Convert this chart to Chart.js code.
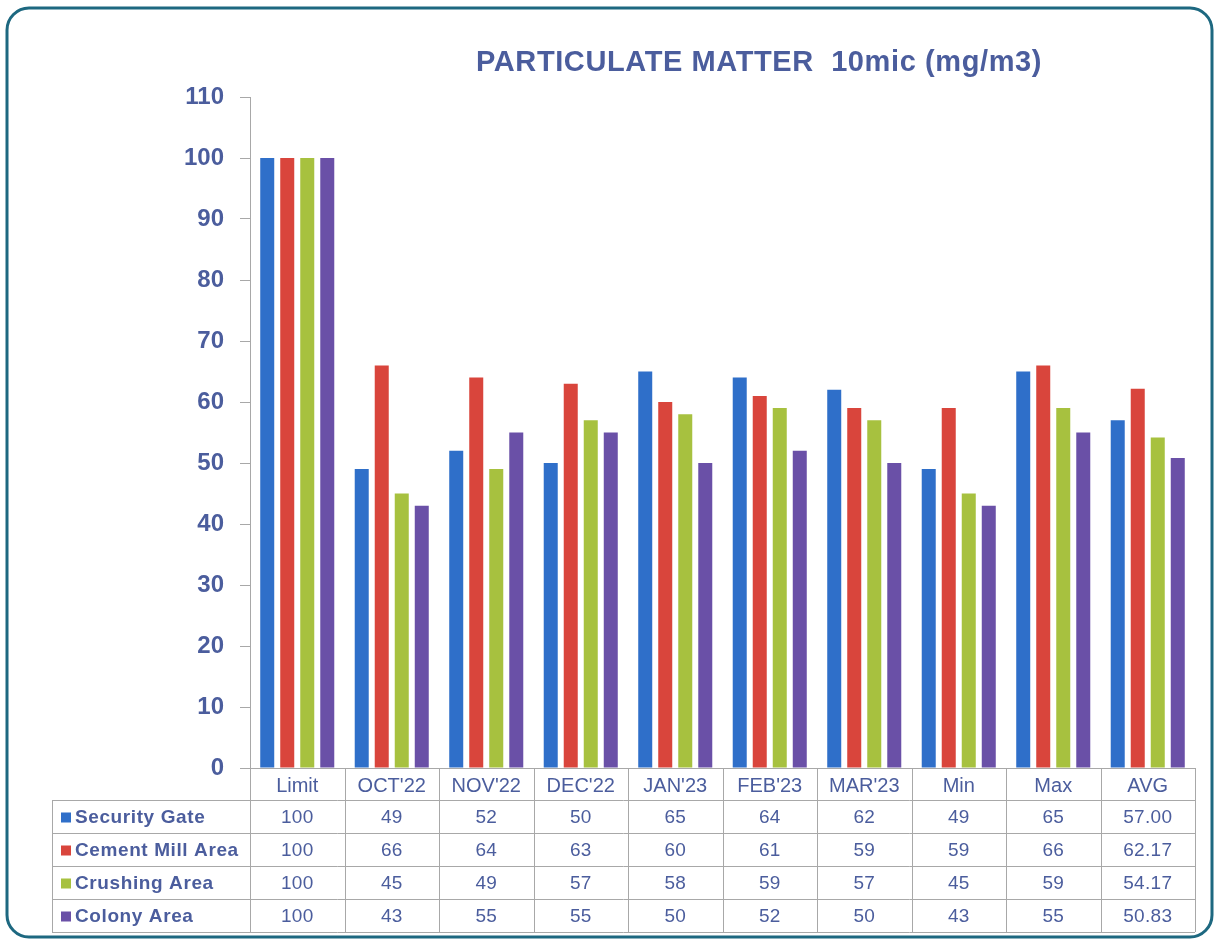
<!DOCTYPE html>
<html>
<head>
<meta charset="utf-8">
<script src="https://cdn.jsdelivr.net/npm/chart.js@4.4.0/dist/chart.umd.min.js"></script>
<style>
  html, body { margin: 0; padding: 0; background: #fff; }
  #wrap { width: 1218px; height: 942px; }
</style>
</head>
<body>
<div id="wrap"><canvas id="pm-chart" width="1218" height="942"></canvas></div>
<script>
// categories + series
const categories = ["Limit", "OCT'22", "NOV'22", "DEC'22", "JAN'23", "FEB'23", "MAR'23", "Min", "Max", "AVG"];
const securityGate = [100, 49, 52, 50, 65, 64, 62, 49, 65, 57.00];
const cementMillArea = [100, 66, 64, 63, 60, 61, 59, 59, 66, 62.17];
const crushingArea = [100, 45, 49, 57, 58, 59, 57, 45, 59, 54.17];
const colonyArea = [100, 43, 55, 55, 50, 52, 50, 43, 55, 50.83];
const yTicks = [0, 10, 20, 30, 40, 50, 60, 70, 80, 90, 100, 110];

const textColor = "#4b5d9d";
const lineColor = "#a8a8a8";
const fontFamily = "'Liberation Sans', Arial, sans-serif";

const series = [
  { label: "Security Gate", data: securityGate, color: "#2f6fc9" },
  { label: "Cement Mill Area", data: cementMillArea, color: "#d9453c" },
  { label: "Crushing Area", data: crushingArea, color: "#a7c13f" },
  { label: "Colony Area", data: colonyArea, color: "#6a50a7" },
];

// frame, title and the data table under the x axis
const tablePlugin = {
  id: "tablePlugin",
  beforeDraw(chart) {
    const ctx = chart.ctx;
    ctx.save();
    ctx.fillStyle = "#fff";
    ctx.fillRect(0, 0, chart.width, chart.height);
    ctx.strokeStyle = "#1d6880";
    ctx.lineWidth = 3;
    ctx.beginPath();
    ctx.roundRect(7, 8, chart.width - 13, chart.height - 13, 22);
    ctx.stroke();
    ctx.restore();
  },
  afterDraw(chart) {
    const ctx = chart.ctx;
    const x = chart.scales.x;
    const area = chart.chartArea;
    const colW = (area.right - area.left) / categories.length;
    const rowH = 33;
    const headerBottom = area.bottom + 32;
    const tableLeft = 52;

    ctx.save();
    // title
    ctx.fillStyle = textColor;
    ctx.font = "bold 29px " + fontFamily;
    ctx.letterSpacing = "0.6px";
    ctx.textAlign = "center";
    ctx.textBaseline = "middle";
    ctx.fillText("PARTICULATE MATTER  10mic (mg/m3)", 759, 63);
    ctx.letterSpacing = "0px";

    // grid lines
    ctx.strokeStyle = lineColor;
    ctx.lineWidth = 1;
    ctx.beginPath();
    for (let i = 0; i <= categories.length; i++) {
      const lx = Math.round(area.left + i * colW) + 0.5;
      ctx.moveTo(lx, area.bottom);
      ctx.lineTo(lx, headerBottom + rowH * series.length);
    }
    for (let r = 0; r <= series.length; r++) {
      const ly = Math.round(headerBottom + r * rowH) + 0.5;
      ctx.moveTo(tableLeft, ly);
      ctx.lineTo(area.right, ly);
    }
    ctx.moveTo(tableLeft + 0.5, headerBottom);
    ctx.lineTo(tableLeft + 0.5, headerBottom + rowH * series.length);
    ctx.stroke();

    // rows
    series.forEach((s, r) => {
      const cy = headerBottom + r * rowH + rowH / 2 + 1;
      ctx.fillStyle = s.color;
      ctx.fillRect(tableLeft + 9, cy - 5, 10, 10);
      ctx.fillStyle = textColor;
      ctx.font = "bold 19px " + fontFamily;
      ctx.letterSpacing = "0.6px";
      ctx.textAlign = "left";
      ctx.fillText(s.label, tableLeft + 23, cy);
      ctx.font = "19px " + fontFamily;
      ctx.letterSpacing = "0.3px";
      ctx.textAlign = "center";
      s.data.forEach((v, i) => {
        const txt = categories[i] === "AVG" ? v.toFixed(2) : String(v);
        ctx.fillText(txt, x.getPixelForTick(i), cy);
      });
    });
    ctx.restore();
  },
};

new Chart(document.getElementById("pm-chart"), {
  type: "bar",
  data: {
    labels: categories,
    datasets: series.map((s) => ({
      label: s.label,
      data: s.data,
      backgroundColor: s.color,
      categoryPercentage: 0.847,
      barPercentage: 0.7,
    })),
  },
  options: {
    responsive: false,
    animation: false,
    layout: { padding: { top: 97, right: 23, bottom: 142, left: 0 } },
    plugins: {
      legend: { display: false },
      title: { display: false },
      tooltip: { enabled: false },
    },
    scales: {
      x: {
        grid: { display: false, drawTicks: false },
        border: { color: lineColor },
        ticks: {
          color: textColor,
          padding: 6,
          maxRotation: 0,
          font: { family: fontFamily, size: 20 },
        },
        afterFit(scale) { scale.height = 32; },
      },
      y: {
        min: 0,
        max: 110,
        afterBuildTicks(scale) { scale.ticks = yTicks.map((v) => ({ value: v })); },
        grid: { drawOnChartArea: false, drawTicks: true, tickLength: 10, color: lineColor },
        border: { color: lineColor },
        ticks: {
          color: textColor,
          padding: 16,
          font: { family: fontFamily, size: 24, weight: "bold" },
        },
        afterFit(scale) { scale.width = 250; },
      },
    },
  },
  plugins: [tablePlugin],
});
</script>
</body>
</html>
